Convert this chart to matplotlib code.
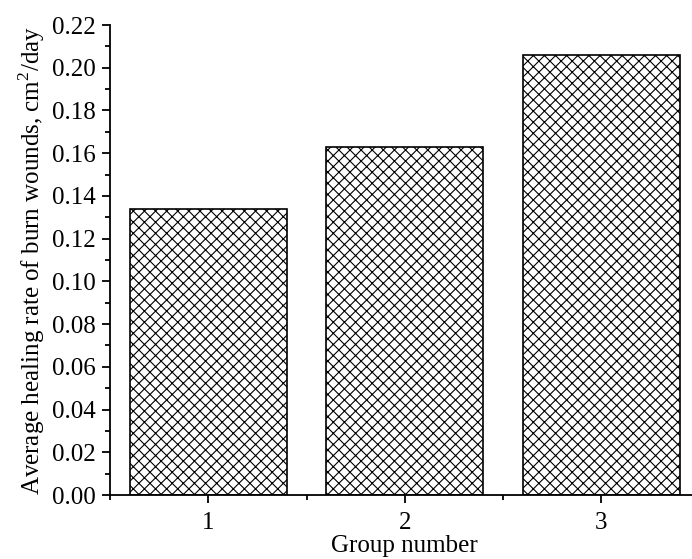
import matplotlib
matplotlib.use("Agg")
import matplotlib.pyplot as plt
from matplotlib.ticker import MultipleLocator

plt.rcParams['font.family'] = ['Liberation Serif', 'DejaVu Serif']
plt.rcParams['mathtext.fontset'] = 'custom'
plt.rcParams['mathtext.rm'] = 'Liberation Serif'
plt.rcParams['hatch.linewidth'] = 0.8

# data
groups = [1, 2, 3]
rates = [0.134, 0.163, 0.206]
yticks = [0.00, 0.02, 0.04, 0.06, 0.08, 0.10, 0.12, 0.14, 0.16, 0.18, 0.20, 0.22]

fig = plt.figure(figsize=(6.92, 5.59), dpi=100)
ax = fig.add_axes([110 / 692, 64 / 559, 589.5 / 692, 470 / 559])

ax.bar(groups, rates, width=0.8, color='white', edgecolor='black',
       linewidth=1.2, hatch='xxx')

ax.set_xlim(0.5, 3.5)
ax.set_ylim(0, 0.22)
ax.set_xticks(groups)
ax.set_yticks(yticks)
ax.set_yticklabels([f"{v:.2f}" for v in yticks])
ax.xaxis.set_minor_locator(MultipleLocator(0.5))
ax.yaxis.set_minor_locator(MultipleLocator(0.01))

for s in ['top', 'right']:
    ax.spines[s].set_visible(False)
for s in ['left', 'bottom']:
    ax.spines[s].set_linewidth(1.3)

ax.tick_params(axis='both', which='major', direction='out', length=6,
               width=1.3, labelsize=18)
ax.tick_params(axis='x', which='major', pad=6)
ax.tick_params(axis='y', which='major', pad=4)
ax.tick_params(axis='both', which='minor', direction='out', length=3.5,
               width=1.3)

ax.set_xlabel("Group number", fontsize=18, labelpad=1)
ax.set_ylabel("Average healing rate of burn wounds, cm$^2$/day", fontsize=18,
              labelpad=4)

fig.savefig("out.png", dpi=100)
